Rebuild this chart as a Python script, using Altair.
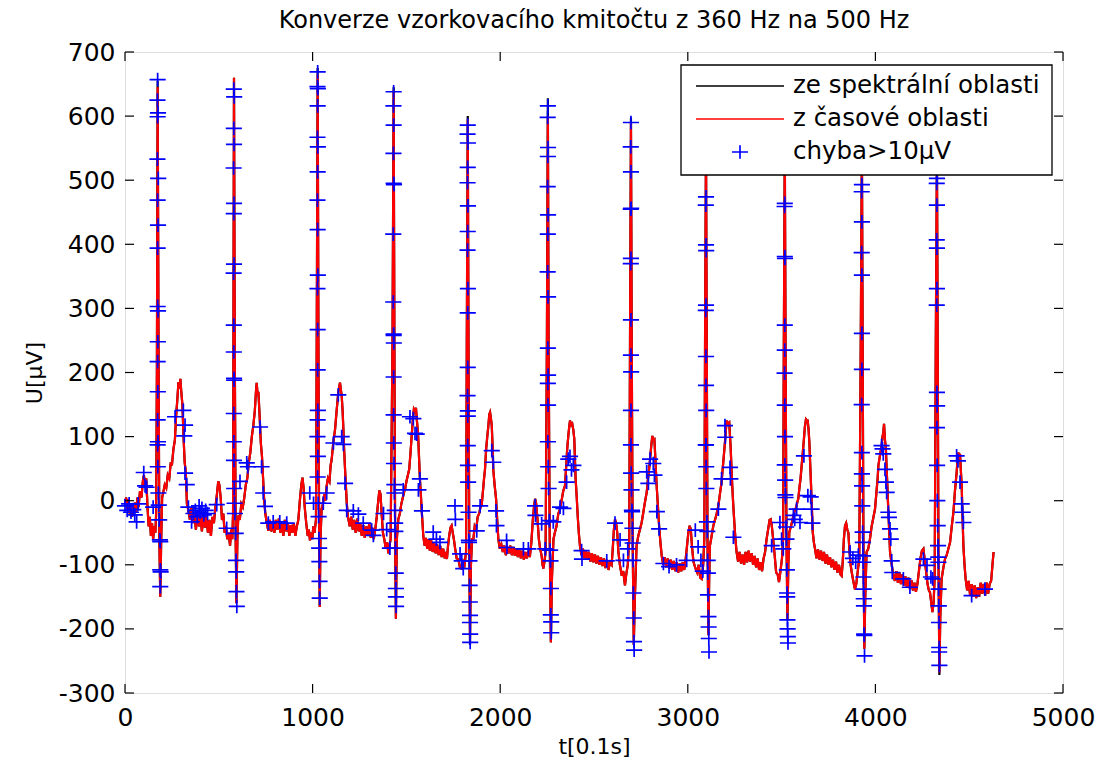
import altair as alt
import pandas as pd

# ---------------- data ----------------
x_ticks = [0, 1000, 2000, 3000, 4000, 5000]
y_ticks = [-300, -200, -100, 0, 100, 200, 300, 400, 500, 600, 700]

seg_b1 = [(0,-5),(6,5),(12,-15),(18,2),(24,-20),(30,-5),(36,-25),(42,-8),(48,-22),(54,-3),(60,-18),(66,5),(72,-10),
          (80,15),(88,5),(95,30),(101,40),(107,20),(113,35),(120,-10),(126,-40),(132,-25),(138,-55),(144,-35),(150,-60),
          (156,-40),(162,-50),(166,-20),(170,200),(174,645),(178,300),(183,-60),(188,-150),(193,-60),(198,5),(204,13),
          (212,25),(220,20),(228,40),(236,35),(244,60),(250,55),(258,80),(266,95),(272,130),(279,158),(285,185),(290,175),
          (295,190),(300,170),(306,150),(312,100),(318,60),(324,45),(330,-5),(338,-15),(346,-30)]
seg_b2 = [(354,-10),(362,-35),(370,-20),(378,-45),(386,-15),(394,-40),(402,-25),(410,-48),(418,-20),(426,-42),(434,-25),
          (442,-50),(450,-30),(458,-55),(466,-25),(474,-35),(482,-10),(490,10),(497,30),(503,25),(510,5),(517,-30),(524,-20),
          (531,-50),(538,-40),(545,-60),(552,-50),(560,-70),(566,-45),(572,-60),(576,-20),(578,250),(581,660),(585,250),
          (590,-60),(594,-160),(599,-60),(604,-23),(612,-30),(620,-5),(628,-10),(636,5),(644,25),(652,35),(660,60),(668,75),
          (676,100),(684,117),(692,140),(698,170),(702,184),(707,165),(711,170),(718,130),(724,90),(730,70),(736,35),(742,0),
          (748,-20),(756,-35),(764,-47)]
seg_b3 = [(772,-30),(780,-48),(788,-32),(796,-50),(804,-30),(812,-45),(820,-28),(828,-50),(836,-35),(844,-55),(852,-30),
          (860,-48),(868,-35),(876,-55),(884,-38),(892,-50),(900,-35),(908,-55),(916,-40),(924,-30),(932,0),(940,25),(946,36),
          (952,20),(958,-10),(966,-35),(974,-55),(980,-45),(986,-62),(992,-50),(998,-60),(1004,-40),(1010,-50),(1018,-30),
          (1022,250),(1027,665),(1031,250),(1035,-60),(1038,-166),(1042,-60),(1048,-13),(1055,-5),(1062,10),(1068,0),(1075,23),
          (1082,35),(1090,30),(1096,55),(1102,65),(1110,90),(1120,112),(1128,140),(1137,169),(1146,184),(1150,175),(1155,164),
          (1160,140),(1164,112),(1168,80),(1173,49),(1178,20),(1182,-3),(1188,-25),(1191,-29)]
seg_b4 = [(1198,-40),(1206,-25),(1214,-45),(1222,-30),(1230,-50),(1238,-28),(1246,-48),(1254,-35),(1262,-55),(1270,-38),
          (1278,-58),(1286,-40),(1294,-55),(1302,-35),(1310,-58),(1318,-42),(1326,-60),(1334,-45),(1342,-25),(1350,0),(1356,16),
          (1362,10),(1368,-20),(1375,-50),(1382,-60),(1390,-75),(1397,-65),(1404,-82),(1410,-70),(1416,-60),(1426,250),
          (1432,640),(1436,250),(1440,-60),(1444,-184),(1449,-60),(1457,-29),(1465,-20),(1473,-5),(1481,5),(1489,15),(1493,18),
          (1500,30),(1508,40),(1515,49),(1522,75),(1528,101),(1534,125),(1540,143),(1546,140),(1551,145),(1556,125),(1562,105),
          (1567,70),(1572,34),(1577,10),(1581,-13),(1586,-35),(1590,-55)]
seg_b5 = [(1597,-70),(1604,-58),(1611,-75),(1618,-60),(1625,-78),(1632,-62),(1640,-80),(1648,-65),(1656,-82),(1664,-68),
          (1672,-85),(1680,-70),(1688,-88),(1696,-75),(1704,-90),(1710,-80),(1716,-91),(1722,-70),(1728,-55),(1735,-42),
          (1741,-39),(1747,-50),(1753,-60),(1760,-75),(1768,-90),(1777,-91),(1786,-105),(1795,-106),(1803,-95),(1810,-100),
          (1818,-80),(1822,250),(1827,595),(1831,250),(1835,-60),(1839,-215),(1844,-100),(1850,-60),(1857,-60),(1864,-40),
          (1872,-45),(1880,-25),(1888,-20),(1895,-10),(1901,-8),(1908,15),(1914,35),(1919,49),(1925,80),(1931,100),(1937,117),
          (1942,135),(1946,138),(1950,130),(1955,117),(1960,80),(1963,49),(1970,25),(1978,3),(1984,-30),(1990,-60)]
seg_b6 = [(1998,-75),(2006,-68),(2014,-80),(2022,-70),(2030,-85),(2038,-72),(2046,-82),(2054,-70),(2062,-85),(2070,-72),
          (2078,-86),(2086,-74),(2094,-88),(2102,-76),(2110,-90),(2118,-78),(2126,-92),(2134,-80),(2142,-90),(2150,-78),
          (2158,-88),(2166,-65),(2174,-30),(2180,-10),(2186,3),(2192,-5),(2199,-30),(2206,-60),(2213,-75),(2221,-86),(2226,-100),
          (2230,-106),(2236,-95),(2242,-80),(2249,250),(2254,600),(2258,250),(2264,-60),(2270,-221),(2276,-120),(2284,-60),
          (2292,-49),(2300,-40),(2310,-20),(2319,-13),(2327,0),(2336,15),(2345,23),(2351,50),(2357,80),(2363,101),(2368,115),
          (2372,125),(2378,118),(2384,120),(2390,110),(2395,96),(2399,60),(2402,34),(2408,5),(2413,-23),(2419,-50),(2425,-70)]
seg_b7 = [(2433,-85),(2441,-75),(2449,-90),(2457,-78),(2465,-92),(2473,-80),(2481,-95),(2489,-82),(2497,-96),(2505,-84),
          (2513,-98),(2521,-86),(2529,-100),(2537,-88),(2545,-102),(2553,-90),(2561,-105),(2569,-92),(2577,-108),(2585,-96),
          (2594,-100),(2600,-75),(2606,-45),(2612,-29),(2618,-35),(2624,-50),(2630,-80),(2638,-100),(2648,-117),(2656,-110),
          (2665,-132),(2672,-115),(2680,-100),(2688,-60),(2692,250),(2697,590),(2701,250),(2706,-60),(2712,-225),(2718,-150),
          (2727,-70),(2736,-55),(2745,-45),(2754,-34),(2762,-20),(2770,-5),(2776,5),(2781,13),(2788,35),(2794,50),(2799,65),
          (2805,85),(2811,101),(2816,95),(2822,96),(2828,60),(2834,23),(2840,-5),(2847,-39),(2854,-65),(2861,-86)]
seg_b8 = [(2869,-100),(2877,-88),(2885,-104),(2893,-90),(2901,-106),(2909,-92),(2917,-108),(2925,-94),(2933,-110),(2941,-96),
          (2949,-112),(2957,-98),(2965,-110),(2973,-96),(2981,-108),(2989,-90),(2996,-70),(3003,-50),(3010,-39),(3016,-45),
          (3022,-70),(3030,-95),(3040,-105),(3050,-112),(3058,-100),(3066,-120),(3074,-122),(3082,-100),(3088,-60),(3092,250),
          (3097,560),(3101,250),(3105,-60),(3110,-210),(3114,-120),(3118,-70),(3127,-55),(3136,-39),(3145,-30),(3154,-20),
          (3163,-8),(3171,10),(3180,29),(3186,50),(3192,70),(3198,91),(3203,110),(3207,125),(3214,120),(3221,122),(3225,100),
          (3228,86),(3233,50),(3237,23),(3242,-5),(3248,-34),(3254,-60),(3260,-80)]
seg_b9 = [(3268,-95),(3276,-80),(3284,-98),(3292,-84),(3300,-100),(3308,-80),(3316,-96),(3324,-78),(3332,-95),(3340,-82),
          (3348,-100),(3356,-86),(3364,-104),(3372,-90),(3380,-108),(3388,-96),(3396,-110),(3404,-90),(3412,-80),(3420,-60),
          (3428,-45),(3436,-30),(3442,-29),(3448,-40),(3455,-60),(3463,-85),(3471,-112),(3479,-115),(3486,-127),(3494,-110),
          (3502,-90),(3508,-60),(3512,250),(3517,560),(3521,250),(3526,-60),(3531,-185),(3536,-100),(3541,-49),(3550,-40),
          (3558,-30),(3563,-23),(3570,-15),(3578,-10),(3584,-2),(3589,3),(3595,20),(3601,35),(3607,55),(3613,75),(3619,96),
          (3624,115),(3630,127),(3635,125),(3639,125),(3644,110),(3648,91),(3652,60),(3655,39),(3660,0),(3666,-49),(3672,-65),
          (3678,-75)]
seg_b10 = [(3686,-90),(3694,-76),(3702,-92),(3710,-78),(3718,-94),(3726,-80),(3734,-98),(3742,-84),(3750,-100),(3758,-88),
           (3766,-104),(3774,-92),(3782,-108),(3790,-95),(3798,-112),(3806,-100),(3814,-115),(3820,-117),(3826,-95),(3832,-60),
           (3838,-39),(3844,-35),(3850,-45),(3856,-50),(3862,-80),(3868,-100),(3874,-112),(3882,-125),(3891,-138),(3898,-130),
           (3906,-110),(3914,-90),(3922,250),(3928,560),(3932,250),(3936,-60),(3941,-231),(3946,-150),(3953,-80),(3962,-75),
           (3971,-60),(3980,-40),(3990,-25),(3998,-13),(4006,15),(4012,35),(4016,55),(4024,70),(4033,86),(4038,100),(4042,106),
           (4046,120),(4051,95),(4056,80),(4060,49),(4065,15),(4069,-18),(4074,-50),(4078,-80),(4087,-100),(4096,-117)]
seg_b11 = [(4104,-125),(4112,-110),(4120,-128),(4128,-112),(4136,-130),(4144,-115),(4152,-133),(4160,-118),(4168,-135),
           (4176,-120),(4184,-138),(4192,-124),(4200,-140),(4208,-128),(4216,-142),(4224,-130),(4232,-110),(4240,-90),(4248,-78),
           (4256,-75),(4262,-90),(4270,-110),(4278,-130),(4285,-140),(4291,-143),(4298,-160),(4304,-174),(4310,-160),(4316,-120),
           (4322,250),(4328,540),(4332,250),(4336,-80),(4341,-268),(4346,-180),(4353,-122),(4362,-105),(4371,-91),(4380,-85),
           (4389,-75),(4398,-65),(4407,-40),(4416,-18),(4424,15),(4433,44),(4438,65),(4442,75),(4447,70),(4451,73),(4455,50),
           (4460,23),(4464,-20),(4469,-70),(4475,-100),(4481,-122)]
seg_end = [(4489,-140),(4497,-125),(4505,-148),(4513,-130),(4521,-150),(4529,-132),(4537,-152),(4545,-135),(4553,-150),
           (4561,-128),(4569,-145),(4577,-130),(4585,-148),(4593,-128),(4601,-145),(4609,-130),(4617,-125),(4624,-100),(4630,-80)]

# spectral-domain (black) curve: same samples, differing at these points
black_diff_t = [174, 1027, 1432, 1827, 2254, 2697, 1839, 4341]
black_diff_v = [655, 675, 645, 600, 628, 598, -225, -272]

# error markers (chyba > 10 uV)
plus_b1 = [(0,-8),(12,-15),(22,-5),(32,-18),(44,-14),(52,-22),(62,-33),(70,-5),(100,44),(107,23),(115,21),(150,-10),
           (174,657),(173,625),(176,605),(174,599),(173,533),(177,503),(174,469),(176,430),(174,394),(174,303),(176,296),
           (175,248),(174,217),(175,170),(174,126),(176,92),(174,87),(175,53),(178,12),(180,-7),(182,-30),(186,-61),(188,-64),
           (188,-108),(190,-111),(188,-134),(267,131),(311,141),(320,118),(316,101),(320,43),(329,25),(338,-10),(355,-33),
           (365,-20),(375,-15),(385,-25),(395,-8),(400,-18),(410,-12),(420,-22),(430,-15),(440,-20),(489,-6),(542,-43)]
plus_b2 = [(580,642),(582,630),(580,581),(581,556),(579,519),(581,464),(580,448),(581,369),(579,355),(580,274),(580,232),
           (581,191),(582,188),(580,136),(580,92),(581,63),(582,19),(584,-4),(586,-20),(590,-51),(592,-93),(593,-111),
           (594,-142),(596,-165),(613,30),(649,59),(655,53),(720,115),(728,53),(737,12),(746,-9),(764,-35),(790,-33),
           (825,-33),(862,-35)]
plus_b3 = [(985,12),(1005,-4),(1027,669),(1026,646),(1028,643),(1027,616),(1026,567),(1028,552),(1027,513),(1026,469),
           (1027,423),(1028,352),(1026,331),(1027,267),(1027,204),(1028,141),(1027,126),(1026,100),(1028,69),(1027,37),
           (1030,-4),(1032,-25),(1034,-59),(1035,-74),(1036,-95),(1037,-126),(1038,-152),(1057,-4),(1075,12),(1111,90),
           (1137,165),(1155,100),(1164,88),(1173,27),(1182,-15),(1217,-16),(1244,-21),(1270,-35),(1315,-46),(1324,-54)]
plus_b4 = [(1378,-20),(1395,-45),(1412,-74),(1432,638),(1431,616),(1432,586),(1431,542),(1432,495),(1434,493),(1430,416),
           (1430,310),(1432,260),(1432,258),(1433,246),(1432,193),(1432,134),(1433,90),(1434,58),(1436,25),(1436,12),
           (1438,-15),(1440,-35),(1441,-48),(1442,-74),(1443,-113),(1444,-137),(1444,-150),(1445,-165),(1483,17),(1519,131),
           (1537,128),(1546,105),(1555,104),(1564,17),(1572,34),(1583,-16),(1643,-49),(1660,-60),(1679,-65)]
plus_b5 = [(1759,-8),(1761,-29),(1786,-83),(1795,-94),(1803,-106),(1827,586),(1826,572),(1828,558),(1827,520),(1826,496),
           (1828,460),(1827,420),(1826,391),(1828,331),(1827,293),(1827,208),(1826,164),(1827,132),(1828,140),(1827,86),
           (1828,55),(1829,29),(1831,-18),(1833,-62),(1834,-65),(1836,-94),(1837,-132),(1838,-158),(1839,-179),(1839,-190),
           (1840,-208),(1840,-221),(1875,-47),(1893,-8),(1955,78),(1963,60),(1978,-16),(1980,-39),(2034,-62),(2036,-73),
           (2124,-75),(2150,-75)]
plus_b6 = [(2186,-8),(2188,-23),(2221,-36),(2240,-75),(2254,616),(2253,598),(2255,551),(2254,537),(2253,490),(2255,446),
           (2254,416),(2253,357),(2255,318),(2254,238),(2255,196),(2254,183),(2255,149),(2254,92),(2256,53),(2258,19),
           (2262,-31),(2266,-77),(2268,-94),(2270,-137),(2270,-178),(2272,-189),(2272,-206),(2283,-33),(2319,-10),(2337,-12),
           (2354,29),(2363,65),(2372,69),(2380,48),(2390,55),(2434,-78),(2436,-91),(2568,-94)]
plus_b7 = [(2612,-35),(2639,-61),(2657,-93),(2680,-75),(2697,590),(2696,552),(2697,513),(2698,456),(2696,455),(2697,378),
           (2696,370),(2697,282),(2697,227),(2698,201),(2697,141),(2697,87),(2698,43),(2700,17),(2702,-15),(2703,-17),
           (2705,-43),(2706,-66),(2708,-93),(2710,-144),(2712,-183),(2713,-220),(2714,-233),(2781,45),(2790,27),(2799,65),
           (2816,58),(2822,40),(2835,-17),(2847,-44),(2870,-98),(2900,-103),(2940,-100),(2994,-93)]
plus_b8 = [(3040,-46),(3055,-72),(3070,-93),(3080,-110),(3097,474),(3096,461),(3097,399),(3098,390),(3097,305),(3096,297),
           (3097,225),(3097,180),(3098,141),(3097,87),(3096,87),(3098,53),(3099,19),(3102,-33),(3104,-48),(3106,-93),
           (3107,-113),(3108,-147),(3110,-181),(3111,-197),(3112,-215),(3113,-236),(3163,-13),(3180,34),(3198,117),
           (3200,99),(3225,52),(3227,34),(3243,-57)]
plus_b9 = [(3447,-70),(3491,-34),(3500,-60),(3509,-75),(3517,464),(3516,459),(3517,381),(3518,378),(3517,274),(3517,235),
           (3516,199),(3517,149),(3518,100),(3517,56),(3519,32),(3520,9),(3521,5),(3524,-41),(3526,-60),(3528,-108),
           (3529,-144),(3530,-150),(3531,-186),(3532,-200),(3533,-212),(3534,-222),(3563,-23),(3570,-29),(3580,-13),
           (3598,-34),(3619,70),(3640,8),(3655,6),(3660,-13),(3664,-35)]
plus_b10 = [(3865,-80),(3880,-90),(3895,-96),(3909,-85),(3928,493),(3927,482),(3928,435),(3927,387),(3928,352),(3928,261),
            (3928,205),(3927,150),(3928,75),(3928,42),(3929,23),(3930,-8),(3932,-49),(3933,-65),(3934,-86),(3935,-96),
            (3936,-119),(3937,-138),(3938,-153),(3939,-164),(3940,-208),(3941,-210),(3942,-242),(4033,86),(4038,81),
            (4042,73),(4051,49),(4056,29),(4060,13),(4069,-18),(4072,-26),(4078,-44),(4082,-60),(4087,-94),(4090,-112),
            (4149,-122),(4184,-135)]
plus_b11 = [(4256,-91),(4275,-101),(4296,-119),(4305,-122),(4328,503),(4327,495),(4328,461),(4327,407),(4328,394),
            (4328,331),(4327,305),(4328,169),(4329,148),(4328,114),(4329,55),(4330,0),(4332,-39),(4334,-70),(4335,-88),
            (4336,-96),(4337,-138),(4338,-164),(4339,-190),(4340,-229),(4340,-236),(4341,-257),(4433,70),(4440,62),
            (4451,29),(4460,-5),(4465,-18),(4469,-34),(4513,-148),(4584,-138)]

legend_labels = ["ze spektrální oblasti", "z časové oblasti", "chyba>10μV"]

# ---------------- build ----------------
W, H = 938, 641
FONT = "DejaVu Sans"
PLUS = "M-1,0L1,0M0,-0.85L0,0.85"

signal = seg_b1 + seg_b2 + seg_b3 + seg_b4 + seg_b5 + seg_b6 + seg_b7 + seg_b8 + seg_b9 + seg_b10 + seg_b11 + seg_end
red_df = pd.DataFrame(signal, columns=["t", "v"])
red_df["i"] = range(len(red_df))
black_df = red_df.copy()
for bt, bv in zip(black_diff_t, black_diff_v):
    black_df.loc[black_df["t"] == bt, "v"] = bv

plus_df = pd.DataFrame(plus_b1 + plus_b2 + plus_b3 + plus_b4 + plus_b5 + plus_b6 + plus_b7 + plus_b8 + plus_b9
                       + plus_b10 + plus_b11, columns=["t", "v"])

xs = alt.Scale(domain=[0, 5000], nice=False, zero=False)
ys = alt.Scale(domain=[-300, 700], nice=False, zero=False)

x_axis = alt.Axis(values=x_ticks, title="t[0.1s]", grid=False, ticks=False, tickSize=0, domain=False,
                  labelExpr="'' + datum.value", labelFlush=False, labelOverlap=False,
                  labelFont=FONT, labelFontSize=25, labelColor="black", labelPadding=12,
                  titleFont=FONT, titleFontSize=22, titleFontWeight="normal", titleColor="black", titlePadding=6)
y_axis = alt.Axis(values=y_ticks, title="U[μV]", grid=False, ticks=False, tickSize=0, domain=False,
                  labelExpr="'' + datum.value", labelFlush=False, labelOverlap=False,
                  labelFont=FONT, labelFontSize=25, labelColor="black", labelPadding=10,
                  titleFont=FONT, titleFontSize=22, titleFontWeight="normal", titleColor="black", titlePadding=12)

X = alt.X("t:Q", scale=xs, axis=x_axis)
Y = alt.Y("v:Q", scale=ys, axis=y_axis)

black_line = alt.Chart(black_df).mark_line(color="black", strokeWidth=2.2).encode(x=X, y=Y, order="i:Q")
red_line = alt.Chart(red_df).mark_line(color="#ff0000", strokeWidth=2.2).encode(x=X, y=Y, order="i:Q")
pluses = alt.Chart(plus_df).mark_point(shape=PLUS, size=260, filled=False, color="#0000ff", strokeWidth=1.7,
                                       opacity=1).encode(x=X, y=Y)

xt = pd.DataFrame({"t": x_ticks})
yt = pd.DataFrame({"v": y_ticks})
tick_b = alt.Chart(xt).mark_rule(color="black", strokeWidth=1.2).encode(x=X, y=alt.value(H), y2=alt.value(H - 9))
tick_t = alt.Chart(xt).mark_rule(color="black", strokeWidth=1.2).encode(x=X, y=alt.value(0), y2=alt.value(9))
tick_l = alt.Chart(yt).mark_rule(color="black", strokeWidth=1.2).encode(y=Y, x=alt.value(0), x2=alt.value(9))
tick_r = alt.Chart(yt).mark_rule(color="black", strokeWidth=1.2).encode(y=Y, x=alt.value(W), x2=alt.value(W - 9))

# legend box (MATLAB style)
one = pd.DataFrame({"k": [0]})
leg_rows = [34, 67, 100]
leg_box = alt.Chart(one).mark_rect(fill="white", stroke="black", strokeWidth=1.3).encode(
    x=alt.value(556), x2=alt.value(927), y=alt.value(13), y2=alt.value(123))
leg_l1 = alt.Chart(one).mark_rule(color="black", strokeWidth=1.5).encode(
    x=alt.value(571), x2=alt.value(659), y=alt.value(leg_rows[0]))
leg_l2 = alt.Chart(one).mark_rule(color="#ff0000", strokeWidth=1.5).encode(
    x=alt.value(571), x2=alt.value(659), y=alt.value(leg_rows[1]))
leg_p = alt.Chart(one).mark_point(shape=PLUS, size=260, filled=False, color="#0000ff", strokeWidth=1.7,
                                  opacity=1).encode(x=alt.value(615), y=alt.value(leg_rows[2]))
leg_texts = [
    alt.Chart(one).mark_text(align="left", baseline="middle", font=FONT, fontSize=24.5, color="black").encode(
        x=alt.value(668), y=alt.value(ry), text=alt.value(lab))
    for lab, ry in zip(legend_labels, leg_rows)
]

chart = alt.layer(
    black_line, red_line, pluses, tick_b, tick_t, tick_l, tick_r,
    leg_box, leg_l1, leg_l2, leg_p, *leg_texts
).properties(
    width=W, height=H,
    autosize=alt.AutoSizeParams(type="none"),
    padding={"left": 125, "top": 52, "right": 38, "bottom": 70},
    title=alt.TitleParams("Konverze vzorkovacího kmitočtu z 360 Hz na 500 Hz", font=FONT, fontSize=24,
                          fontWeight="normal", color="black", anchor="middle", offset=7),
).configure_view(stroke="black", strokeWidth=1.5).configure(background="white")

chart.save("out.html", embed_options={"renderer": "svg", "actions": False})
